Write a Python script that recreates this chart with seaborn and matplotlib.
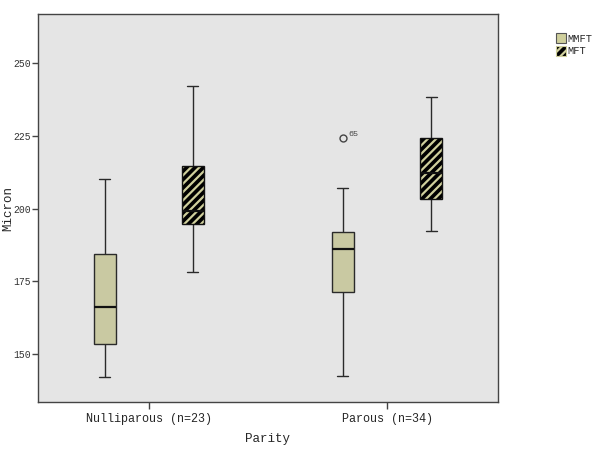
import numpy as np
import pandas as pd
import seaborn as sns
import matplotlib
matplotlib.use("Agg")
import matplotlib.pyplot as plt
from matplotlib.patches import Patch, PathPatch

# five-number summaries (Micron)
groups = ["Nulliparous (n=23)", "Parous (n=34)"]
tests = ["MMFT", "MFT"]
whisker_low = {"MMFT": [142.2, 142.3], "MFT": [178.2, 192.2]}
q1 = {"MMFT": [153.3, 171.2], "MFT": [194.7, 203.2]}
median = {"MMFT": [166.3, 186.2], "MFT": [199.3, 212.2]}
q3 = {"MMFT": [184.3, 192.1], "MFT": [214.8, 224.3]}
whisker_high = {"MMFT": [210.2, 207.2], "MFT": [242.2, 238.3]}
outliers = {("Parous (n=34)", "MMFT"): [224.2]}
outlier_ids = ["65"]

khaki = "#cfcf9c"

plt.rcParams["hatch.linewidth"] = 1.6

# build a long table whose quartiles land exactly on the summaries
rows = []
for t in tests:
    for i, g in enumerate(groups):
        vals = [whisker_low[t][i], q1[t][i], q1[t][i], median[t][i], median[t][i],
                q3[t][i], q3[t][i], whisker_high[t][i]]
        vals += outliers.get((g, t), [])
        for v in vals:
            rows.append({"Parity": g, "Test": t, "Micron": v})
df = pd.DataFrame(rows)

sns.set_style("white")
plt.rcParams["font.family"] = ["Liberation Mono", "DejaVu Sans Mono"]

fig = plt.figure(figsize=(6, 4.51), dpi=100)
ax = fig.add_axes([0.0633, 0.1086, 0.7667, 0.8604])
ax.set_facecolor("#e5e5e5")

sns.boxplot(data=df, x="Parity", y="Micron", hue="Test", order=groups, hue_order=tests,
            palette=[khaki, khaki], width=0.74, gap=0.75, whis=1.5,
            linecolor="#2a2a2a", linewidth=1.0,
            medianprops=dict(color="#111111", linewidth=1.6),
            flierprops=dict(marker="o", markerfacecolor="none", markeredgecolor="#444444",
                            markersize=5, markeredgewidth=1.0),
            legend=False, ax=ax)

# hatch the MFT boxes: black ground with khaki stripes, black outline on top
for p in list(ax.patches):
    xs = p.get_path().vertices[:, 0]
    cx = (xs.min() + xs.max()) / 2
    if cx - round(cx) > 0:
        p.set_facecolor("black")
        p.set_edgecolor(khaki)
        p.set_hatch("////")
        p.set_linewidth(0)
        ax.add_patch(PathPatch(p.get_path(), transform=p.get_transform(), fill=False,
                               edgecolor="#111111", linewidth=1.0, zorder=p.get_zorder() + 0.05))

# label the outlier case number
for line in ax.lines:
    if line.get_marker() == "o" and len(line.get_xdata()) > 0:
        for x, y, lab in zip(line.get_xdata(), line.get_ydata(), outlier_ids):
            ax.annotate(lab, (x, y), xytext=(4, 2), textcoords="offset points",
                        fontsize=6, color="#444444")

ax.set_xlim(-0.466, 1.466)
ax.set_ylim(133.5, 267)
ax.set_yticks([150, 175, 200, 225, 250])
ax.set_xlabel("Parity", fontsize=9, labelpad=6)
ax.set_ylabel("Micron", fontsize=9)
ax.yaxis.set_label_coords(-0.052, 0.5)
ax.tick_params(axis="x", bottom=True, length=5, width=1, color="#444444", labelsize=8.5,
               pad=3, direction="out")
ax.tick_params(axis="y", left=True, length=4, width=1, color="#444444", labelsize=7, pad=1,
               direction="out", labelcolor="#333333")
for s in ax.spines.values():
    s.set_color("#444444")
    s.set_linewidth(1.0)
    s.set_visible(True)

handles = [Patch(facecolor=khaki, edgecolor="#555555", linewidth=0.8),
           Patch(facecolor="black", edgecolor=khaki, hatch="////", linewidth=0.8)]
fig.legend(handles, tests, loc="upper left", bbox_to_anchor=(0.927, 0.926), frameon=False,
           fontsize=7.5, handlelength=0.95, handleheight=1.0, handletextpad=0.15,
           labelspacing=0.25, borderpad=0, borderaxespad=0)

fig.savefig("out.png", dpi=100)
